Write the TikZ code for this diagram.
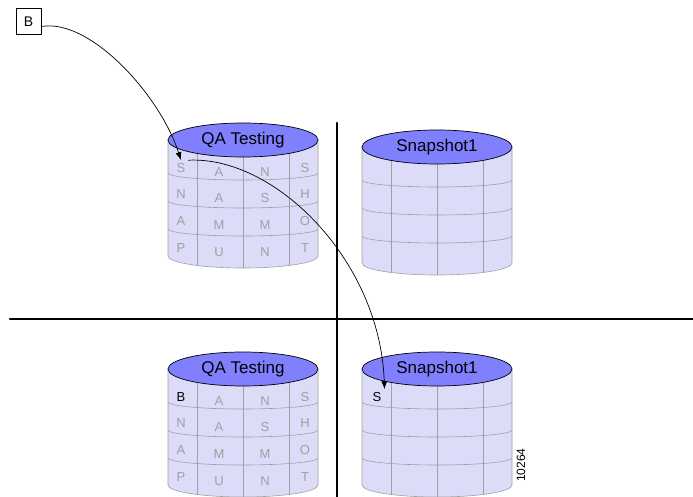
\documentclass[tikz,border=0pt]{standalone}
\usepackage{fontspec}
\setmainfont{Liberation Sans}
\usetikzlibrary{arrows.meta}
\definecolor{dbLid}{RGB}{128,128,255}
\definecolor{dbBody}{RGB}{220,220,248}
\definecolor{dbGrid}{RGB}{160,160,160}
\definecolor{dbText}{RGB}{160,160,160}
\begin{document}
\begin{tikzpicture}[x=1pt, y=-1pt, line join=round, line cap=round, >={Latex[length=8pt,width=6pt]},
	cell/.style={inner sep=3pt, text=dbText, font=\fontsize{13}{15}\selectfont},
	rim/.style={draw=dbGrid, line width=0.6pt},
	lidtop/.style={draw=black, fill=dbLid, line width=0.7pt}]
	\useasboundingbox (0,0) rectangle (693,497);
	% cross of the two thick lines
	\draw[line width=2.6pt] (337,123)--(337,497) (10,319)--(693,319);
	% the four drums
	\foreach \cx/\cy/\ttl in {243/140/QA Testing, 437/147/Snapshot1, 243/369/QA Testing, 437/369/Snapshot1}{
		\fill[dbBody] (\cx-75,\cy)--(\cx-75,\cy+116) arc[start angle=180, end angle=0, x radius=75, y radius=12]--(\cx+75,\cy)--cycle;
		\begin{scope}
			\clip (\cx-75,\cy)--(\cx-75,\cy+116) arc[start angle=180, end angle=0, x radius=75, y radius=12]--(\cx+75,\cy)--cycle;
			\foreach \r in {33,61,89}\draw[rim] (\cx-75,\cy+\r) arc[start angle=180, end angle=0, x radius=75, y radius=7];
			\foreach \c in {-46,0,46}\draw[rim] (\cx+\c,\cy)--(\cx+\c,\cy+140);
		\end{scope}
		\draw[rim] (\cx-75,\cy)--(\cx-75,\cy+116) arc[start angle=180, end angle=0, x radius=75, y radius=12]--(\cx+75,\cy);
		\draw[lidtop] (\cx,\cy) ellipse[x radius=75, y radius=17];
		\node[font=\fontsize{17}{19}\selectfont] at (\cx,\cy) {\ttl};
	}
	% letters in the cells
	\foreach \cyl/\cy in {tl/140, bl/369}
	\foreach \w [count=\r] in {{-,A,N,S},{N,A,S,H},{A,M,M,O},{P,U,N,T}}
	\foreach \ch [count=\c] in \w {
		\pgfmathsetmacro\dx{{-62,-24,22,62}[\c-1]}
		\pgfmathsetmacro\dy{{28,54,81,108}[\r-1]+{0,4,4,0}[\c-1]}
		\if\ch-\else\node[cell] (\cyl-\r-\c) at (243+\dx,\cy+\dy) {\ch};\fi
	}
	\node[cell] (tl-1-1) at (181,168) {S};
	\node[cell, text=black] (bl-1-1) at (181,397) {B};
	\node[cell, text=black] (br-1-1) at (377,397) {S};
	\node[draw, line width=0.6pt, minimum width=25pt, minimum height=26pt, font=\fontsize{14}{16}\selectfont] (src) at (28.5,21.5) {B};
	\node[rotate=90, font=\fontsize{12}{14}\selectfont] (fig) at (521,465) {10264};
	% moves
	\draw[->, line width=0.7pt] ([yshift=-5pt]src.east) .. controls (90,18) and (160,95) .. (tl-1-1.north);
	\draw[->, line width=0.7pt] (tl-1-1.north east) .. controls (275,156) and (380,260) .. (br-1-1.north east);
\end{tikzpicture}
\end{document}
